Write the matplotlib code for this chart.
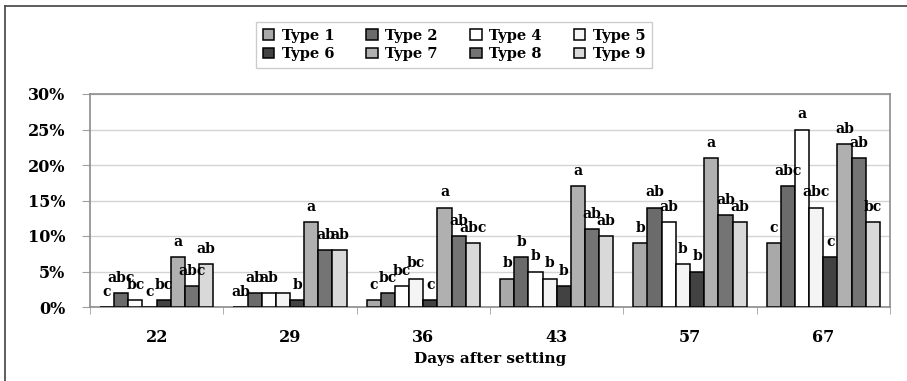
import matplotlib
matplotlib.use("Agg")
import matplotlib.pyplot as plt
import numpy as np
from matplotlib.lines import Line2D

days = ["22", "29", "36", "43", "57", "67"]
types = ["Type 1", "Type 2", "Type 4", "Type 5", "Type 6", "Type 7", "Type 8", "Type 9"]

type1 = [0, 0, 1, 4, 9, 9]
type2 = [2, 2, 2, 7, 14, 17]
type4 = [1, 2, 3, 5, 12, 25]
type5 = [0, 2, 4, 4, 6, 14]
type6 = [1, 1, 1, 3, 5, 7]
type7 = [7, 12, 14, 17, 21, 23]
type8 = [3, 8, 10, 11, 13, 21]
type9 = [6, 8, 9, 10, 12, 12]

lab1 = ["c", "ab", "c", "b", "b", "c"]
lab2 = ["abc", "ab", "bc", "b", "ab", "abc"]
lab4 = ["bc", "ab", "bc", "b", "ab", "a"]
lab5 = ["c", "", "bc", "b", "b", "abc"]
lab6 = ["bc", "b", "c", "b", "b", "c"]
lab7 = ["a", "a", "a", "a", "a", "ab"]
lab8 = ["abc", "ab", "ab", "ab", "ab", "ab"]
lab9 = ["ab", "ab", "abc", "ab", "ab", "bc"]

series = [type1, type2, type4, type5, type6, type7, type8, type9]
letters = [lab1, lab2, lab4, lab5, lab6, lab7, lab8, lab9]
colors = ["#a9a9a9", "#6b6b6b", "#ffffff", "#f4f4f4", "#424242", "#b0b0b0", "#747474", "#d9d9d9"]

FONT = "DejaVu Serif"

fig = plt.figure(figsize=(9.07, 3.81), dpi=100)
ax = fig.add_axes([90/907, 1-307/381, 800/907, 213/381])

n = len(series)
bw = 0.85 / n
x = np.arange(len(days))
handles = []
for i, (vals, labs, c) in enumerate(zip(series, letters, colors)):
    pos = x - 0.425 + bw * (i + 0.5)
    b = ax.bar(pos, vals, width=bw, color=c, edgecolor="black", linewidth=1.1,
               label=types[i], zorder=3)
    handles.append(b)
    for px, v, t in zip(pos, vals, labs):
        if t:
            ax.annotate(t, (px, v), xytext=(0, 8), textcoords="offset points",
                        ha="center", va="baseline", fontsize=10,
                        fontweight="bold", family=FONT, zorder=4)

ax.set_xlim(-0.5, len(days) - 0.5)
ax.set_ylim(0, 30)
ax.set_yticks(range(0, 31, 5))
ax.set_yticklabels([f"{v}%" for v in range(0, 31, 5)])
ax.set_xticks(x)
ax.set_xticklabels(days)
ax.set_xticks(np.arange(-0.5, len(days)), minor=True)
ax.tick_params(axis="x", which="major", length=0, pad=16)
ax.tick_params(axis="x", which="minor", length=5, color="#a0a0a0", direction="out")
ax.tick_params(axis="y", length=6, color="#a0a0a0", pad=12)
for lbl in ax.get_xticklabels() + ax.get_yticklabels():
    lbl.set_fontfamily(FONT)
    lbl.set_fontweight("bold")
    lbl.set_fontsize(11.5)
ax.yaxis.grid(True, color="#d4d4d4", linewidth=1.0, zorder=0)
ax.set_axisbelow(True)
for s in ax.spines.values():
    s.set_color("#8c8c8c")
    s.set_linewidth(1.2)
ax.set_xlabel("Days after setting", family=FONT, fontweight="bold",
              fontsize=11, labelpad=4)

order = [0, 4, 1, 5, 2, 6, 3, 7]
leg = fig.legend([handles[k] for k in order], [types[k] for k in order],
                 loc="upper center", bbox_to_anchor=(454/907, 1-22/381), ncol=4,
                 prop={"family": FONT, "weight": "bold", "size": 10.5},
                 frameon=True, fancybox=False, edgecolor="#c0c0c0",
                 handlelength=0.8, handleheight=0.7, handletextpad=0.5,
                 columnspacing=2.2, labelspacing=0.3, borderpad=0.45,
                 borderaxespad=0)
leg.get_frame().set_linewidth(1.0)

fig.add_artist(Line2D([5/907, 5/907], [0, 1-6/381], transform=fig.transFigure,
                      color="#505050", linewidth=1.3))
fig.add_artist(Line2D([5/907, 1], [1-6/381, 1-6/381], transform=fig.transFigure,
                      color="#505050", linewidth=1.3))

fig.savefig("out.png", dpi=100)
